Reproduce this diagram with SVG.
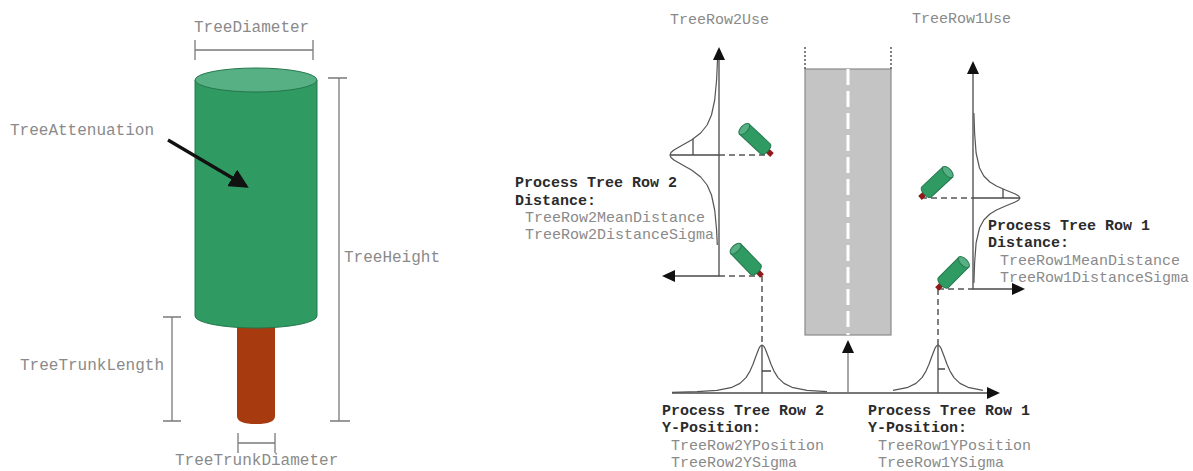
<svg xmlns="http://www.w3.org/2000/svg" width="1193" height="471" viewBox="0 0 1193 471">
  <style>
    .lbl { font-family: "Liberation Mono", "Courier New", monospace; fill: #8a8a8a; }
    .big { font-size: 16px; }
    .sm { font-size: 15px; }
    .hd { font-family: "Liberation Mono", "Courier New", monospace; font-size: 15px; font-weight: bold; fill: #2b2b2b; }
    .dim { stroke: #7a7a7a; stroke-width: 1.3; fill: none; }
    .axis { stroke: #4a4a4a; stroke-width: 1.3; fill: none; }
    .dash { stroke: #555; stroke-width: 1.5; fill: none; stroke-dasharray: 6 4; }
    .curve { stroke: #555; stroke-width: 1.2; fill: none; stroke-linejoin: round; }
    .head { fill: #111; }
    .leaf { fill: #2f9a62; stroke: #25784c; stroke-width: 1; }
    .cap { fill: #56b083; stroke: #25784c; stroke-width: 1; }
  </style>
  <defs>
    <!-- small tilted tree: tip at origin, body extending along -y -->
    <g id="minitree">
      <rect x="-2.6" y="-10" width="5.2" height="10" fill="#8e1a1a"/>
      <path class="leaf" d="M-7,-38 L-7,-9 A7,3.5 0 0 0 7,-9 L7,-38 Z"/>
      <ellipse class="cap" cx="0" cy="-38" rx="7" ry="3.5"/>
    </g>
    <marker id="bigArrow" markerWidth="6" markerHeight="6" refX="5" refY="3" orient="auto" markerUnits="strokeWidth">
      <path d="M0,0 L6,3 L0,6 Z" fill="#111"/>
    </marker>
  </defs>

  <rect width="1193" height="471" fill="#ffffff"/>

  <!-- ===== Tree model (left) ===== -->
  <g id="tree-trunk">
    <path d="M237,318 L237,416 Q237,424 256,424 Q275,424 275,416 L275,318 Z" fill="#a83a10"/>
  </g>
  <g id="tree-crown">
    <path class="leaf" d="M195,80 L195,316 A61,12 0 0 0 317,316 L317,80 Z"/>
    <ellipse class="cap" cx="256" cy="80" rx="61" ry="12"/>
  </g>

  <g id="dim-diameter">
    <path class="dim" d="M195,50 H313 M195,40 V60 M313,40 V60"/>
    <text class="lbl big" x="194" y="32">TreeDiameter</text>
  </g>
  <g id="dim-height">
    <path class="dim" d="M339,78 V421 M328,78 H347 M330,421 H350"/>
    <text class="lbl big" x="344" y="262">TreeHeight</text>
  </g>
  <g id="dim-trunk-length">
    <path class="dim" d="M172,317 V421 M163,317 H181 M163,421 H181"/>
    <text class="lbl big" x="20" y="370">TreeTrunkLength</text>
  </g>
  <g id="dim-trunk-diameter">
    <path class="dim" d="M238,443 H275 M238,433 V453 M275,433 V453"/>
    <text class="lbl big" x="175" y="465">TreeTrunkDiameter</text>
  </g>
  <g id="attenuation">
    <text class="lbl big" x="10" y="135">TreeAttenuation</text>
    <line x1="168" y1="140" x2="246" y2="186" stroke="#111" stroke-width="3.2" marker-end="url(#bigArrow)"/>
  </g>

  <!-- ===== Road layout (right) ===== -->
  <g id="road">
    <rect x="805" y="69" width="86" height="266" fill="#c4c4c4" stroke="#8a8a8a" stroke-width="1.2"/>
    <line x1="848" y1="69" x2="848" y2="335" stroke="#ffffff" stroke-width="3" stroke-dasharray="16 6"/>
    <path d="M805,47 V69 M891,47 V69" stroke="#555" stroke-width="1.5" stroke-dasharray="2 2" fill="none"/>
  </g>

  <g id="connectors">
    <!-- row 2 distance axes -->
    <path class="axis" d="M719,58 V276 H671"/>
    <path class="head" d="M719,47 L713,60 L725,60 Z"/>
    <path class="head" d="M662,276 L675,270 L675,282 Z"/>
    <path class="dash" d="M719,276 H762"/>
    <path class="axis" d="M670,155 H719"/>
    <path class="dash" d="M719,155 H770"/>
    <path class="axis" d="M693,139 V155"/>

    <!-- row 1 distance axes -->
    <path class="axis" d="M973,72 V289 H1014"/>
    <path class="head" d="M973,61 L967,74 L979,74 Z"/>
    <path class="head" d="M1025,289 L1012,283 L1012,295 Z"/>
    <path class="dash" d="M938,289 H973"/>
    <path class="dash" d="M921,198 H973"/>
    <path class="axis" d="M973,198 H1020"/>
    <path class="axis" d="M1003,189 V198"/>

    <!-- lateral position axis -->
    <path class="axis" d="M672,393 H990"/>
    <path class="head" d="M1000,393 L987,387 L987,399 Z"/>
    <path class="dash" d="M762,276 V345 M938,289 V345"/>
    <path class="axis" d="M762,345 V393 M938,345 V393"/>
    <path class="axis" d="M762,371 H771 M938,369 H945"/>

    <!-- driving direction -->
    <path d="M848,393 V352" stroke="#777" stroke-width="1.3" fill="none"/>
    <path class="head" d="M848,340 L842,353 L854,353 Z"/>
  </g>

  <g id="dist-curve-row2">
    <polyline class="curve" points="717.5,60 716.6,80 714.7,100 711.5,115 707.1,125 700.7,133 691.5,140 682.6,145 673.9,150 671,152.5 670,155 671,157.5 673.9,160 682.6,165 691.5,170 700.7,177 707.1,185 711.5,195 714.7,210 716.6,230 717.3,245"/>
  </g>
  <g id="dist-curve-row1">
    <polyline class="curve" points="973.9,113 974.6,133 976.1,153 979.5,168 983.8,176 989.9,182 996.5,186 1005.5,190 1015.3,194 1018.7,196 1020,198 1018.7,200 1015.3,202 1005.5,206 996.5,210 989.9,214 983.8,220 979.5,228 976.1,243 974.6,263 973.9,283"/>
  </g>
  <g id="ypos-curve-row2">
    <polyline class="curve" points="672,392.3 697,391.7 717,390.3 732,387.3 740,383.4 746,377.6 750,371.1 753,364.2 756,356 759,348.3 760.5,345.9 762,345 763.5,345.9 765,348.3 768,356 771,364.2 774,371.1 778,377.6 784,383.4 792,387.3 807,390.3 827,391.7"/>
  </g>
  <g id="ypos-curve-row1">
    <polyline class="curve" points="893,390.3 908,387.3 916,383.4 922,377.6 926,371.1 929,364.2 932,356 935,348.3 936.5,345.9 938,345 939.5,345.9 941,348.3 944,356 947,364.2 950,371.1 954,377.6 960,383.4 968,387.3 983,390.3"/>
  </g>

  <!-- trees of each row -->
  <g id="tree-row2-a"><use href="#minitree" transform="translate(772,155) rotate(-47)"/></g>
  <g id="tree-row2-b"><use href="#minitree" transform="translate(762,276) rotate(-44)"/></g>
  <g id="tree-row1-a"><use href="#minitree" transform="translate(920,198) rotate(47)"/></g>
  <g id="tree-row1-b"><use href="#minitree" transform="translate(937,289) rotate(45)"/></g>

  <!-- labels -->
  <g id="label-use">
    <text class="lbl sm" x="670" y="24">TreeRow2Use</text>
    <text class="lbl sm" x="912" y="23">TreeRow1Use</text>
  </g>
  <g id="label-row2-distance">
    <text class="hd" x="515" y="187">Process Tree Row 2</text>
    <text class="hd" x="515" y="205">Distance:</text>
    <text class="lbl sm" x="525" y="222">TreeRow2MeanDistance</text>
    <text class="lbl sm" x="525" y="239">TreeRow2DistanceSigma</text>
  </g>
  <g id="label-row1-distance">
    <text class="hd" x="988" y="230">Process Tree Row 1</text>
    <text class="hd" x="988" y="247">Distance:</text>
    <text class="lbl sm" x="1000" y="265">TreeRow1MeanDistance</text>
    <text class="lbl sm" x="1000" y="282">TreeRow1DistanceSigma</text>
  </g>
  <g id="label-row2-ypos">
    <text class="hd" x="662" y="415">Process Tree Row 2</text>
    <text class="hd" x="662" y="432">Y-Position:</text>
    <text class="lbl sm" x="671" y="450">TreeRow2YPosition</text>
    <text class="lbl sm" x="671" y="467">TreeRow2YSigma</text>
  </g>
  <g id="label-row1-ypos">
    <text class="hd" x="868" y="415">Process Tree Row 1</text>
    <text class="hd" x="868" y="432">Y-Position:</text>
    <text class="lbl sm" x="878" y="450">TreeRow1YPosition</text>
    <text class="lbl sm" x="878" y="467">TreeRow1YSigma</text>
  </g>
</svg>
